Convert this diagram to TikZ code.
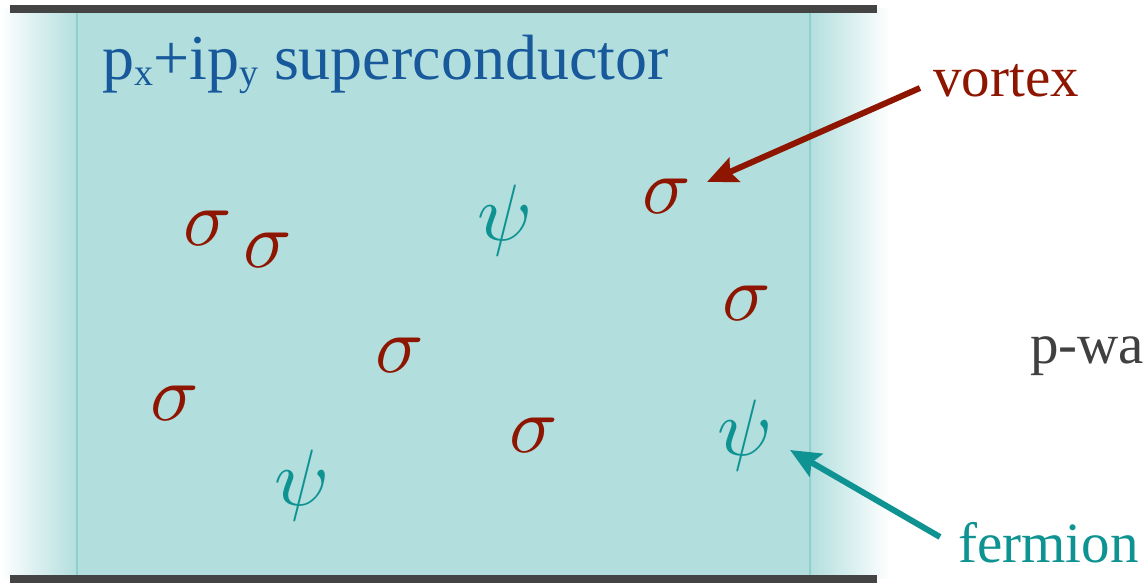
\documentclass[tikz,border=0pt]{standalone}
\usepackage{fontspec}
\setmainfont{Liberation Serif}
\usetikzlibrary{arrows.meta}
\definecolor{scfill}{HTML}{B3DEDE}
\definecolor{scline}{HTML}{8ECFCF}
\definecolor{vred}{HTML}{8E1600}
\definecolor{fteal}{HTML}{0E9392}
\definecolor{tblue}{HTML}{17599A}
\definecolor{bargray}{HTML}{444444}
\definecolor{txtgray}{HTML}{404040}
\tikzset{
  sym/.style={anchor=base, inner sep=0pt, font=\fontsize{10}{10}\selectfont, scale=8},
  vsym/.style={sym, text=vred},
  fsym/.style={sym, text=fteal},
  lbl/.style={anchor=base west, inner sep=0pt, font=\fontsize{57}{57}\selectfont},
  ttl/.style={anchor=base west, inner sep=0pt, font=\fontsize{64}{64}\selectfont},
  bar/.style={fill=bargray, draw=none},
  pointer/.style={line width=6pt, -{Stealth[length=30pt,width=26pt,inset=5pt]}},
}
\newcommand{\titletext}{p\raisebox{-6pt}{\fontsize{38}{38}\selectfont x}+ip\raisebox{-6pt}{\fontsize{38}{38}\selectfont y} superconductor}
\begin{document}
\begin{tikzpicture}[x=1pt,y=-1pt]
\useasboundingbox (0,0) rectangle (1145,583);
% superconductor region
\fill[scfill] (77,9) rectangle (810,578);
\shade[left color=white, right color=scfill] (0,9) rectangle (77,578);
\shade[left color=scfill, right color=white] (810,9) rectangle (890,578);
\draw[scline, line width=1.2pt] (77,9) -- (77,578);
\draw[scline, line width=1.2pt] (810,9) -- (810,578);
% bars
\fill[bar] (10,5) rectangle (877,13);
\fill[bar] (10,575) rectangle (877,583);
% title
\node[ttl, text=tblue] (title) at (102,80) {\titletext};
% symbols
\node[vsym] (s1) at (208,245) {$\sigma$};
\node[vsym] (s2) at (268,267) {$\sigma$};
\node[vsym] (s3) at (667,213) {$\sigma$};
\node[vsym] (s4) at (747,320) {$\sigma$};
\node[vsym] (s5) at (400,372) {$\sigma$};
\node[vsym] (s6) at (175,420) {$\sigma$};
\node[vsym] (s7) at (534,452) {$\sigma$};
\node[fsym] (p1) at (505,240) {$\psi$};
\node[fsym] (p2) at (302,505) {$\psi$};
\node[fsym] (p3) at (745,455) {$\psi$};
% labels
\node[lbl, text=vred] (vortex) at (933,97) {vortex};
\node[lbl, text=fteal] (fermion) at (958,562) {fermion};
\node[lbl, text=txtgray] (pwave) at (1030,363) {p-wa};
% arrows
\coordinate (vstart) at (920,88);
\coordinate (vtip) at (707,182);
\coordinate (fstart) at (940,537);
\coordinate (ftip) at (790,450);
\draw[pointer, vred] (vstart) -- (vtip);
\draw[pointer, fteal] (fstart) -- (ftip);
\end{tikzpicture}
\end{document}
